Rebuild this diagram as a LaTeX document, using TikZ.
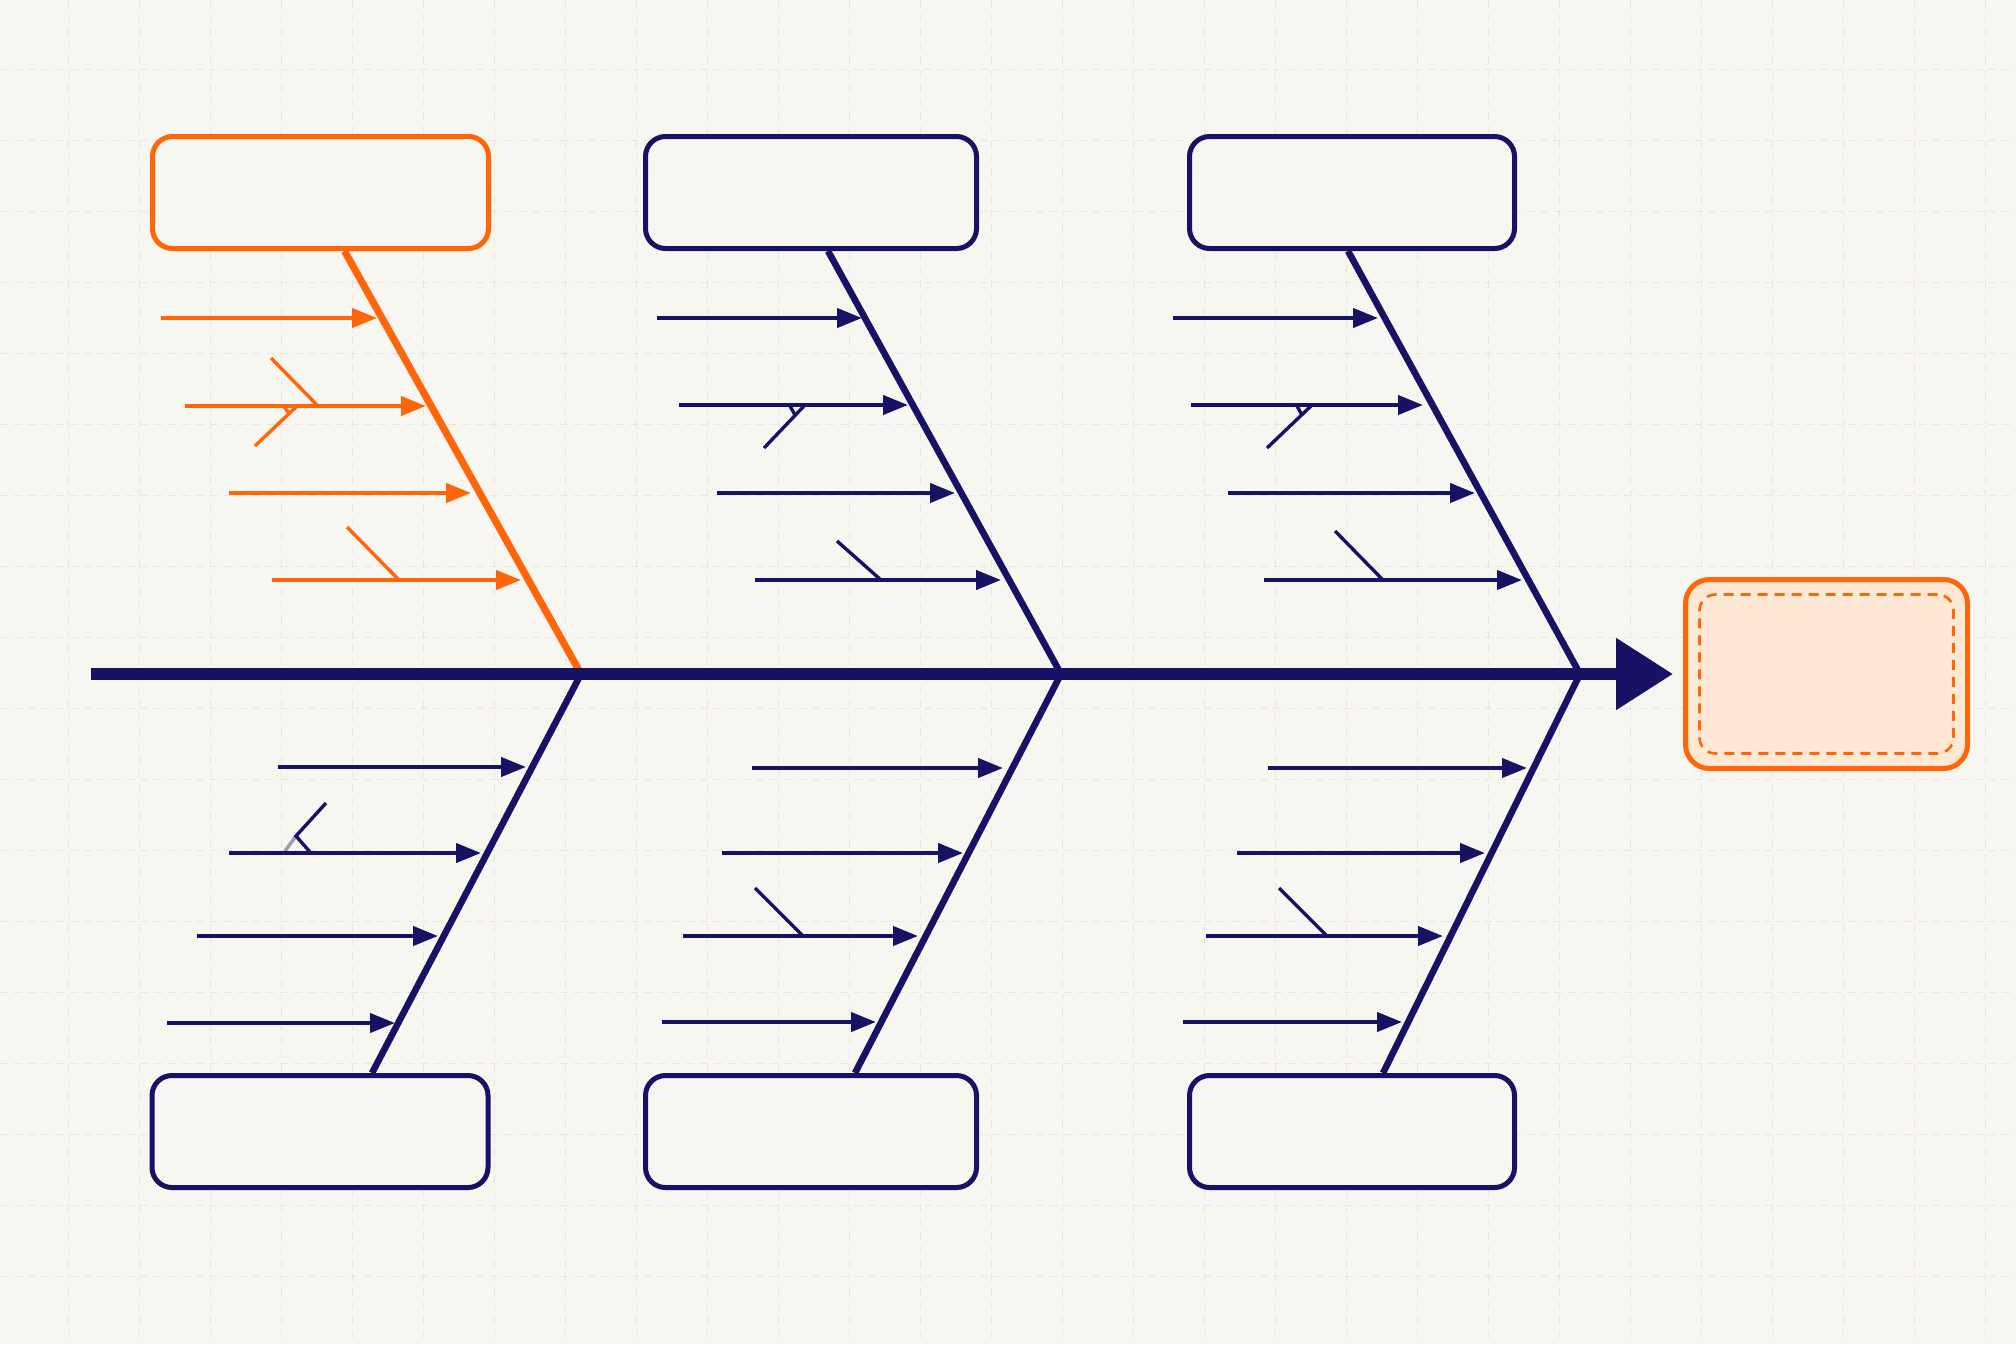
\documentclass[tikz,border=0pt]{standalone}
\usepackage{tikz}
\usetikzlibrary{arrows.meta}
\definecolor{navy}{RGB}{24,18,100}
\definecolor{hot}{RGB}{255,102,10}
\definecolor{paper}{RGB}{248,246,241}
\definecolor{gridgray}{RGB}{233,230,225}
\definecolor{peach}{RGB}{255,233,212}
\tikzstyle{gridline}=[draw=gridgray, line width=0.5pt, dash pattern=on 4pt off 3pt]
\tikzstyle{catbox}=[rectangle, rounded corners=10pt, draw=navy, line width=2.5pt, fill=paper, minimum width=168pt, minimum height=56pt, inner sep=0pt]
\tikzstyle{catboxhot}=[catbox, draw=hot]
\tikzstyle{effbox}=[rectangle, rounded corners=12pt, draw=hot, line width=2.5pt, fill=peach, minimum width=141pt, minimum height=94.5pt, inner sep=0pt]
\tikzstyle{effinner}=[rectangle, rounded corners=8pt, draw=hot, line width=1.3pt, dash pattern=on 5pt off 3.5pt, minimum width=127pt, minimum height=79.5pt, inner sep=0pt]
\tikzstyle{spine}=[draw=navy, line width=6pt, -{Triangle[length=28.5pt,width=34.5pt]}]
\tikzstyle{bone}=[draw=navy, line width=3.3pt]
\tikzstyle{bonehot}=[draw=hot, line width=3.6pt]
\tikzstyle{cause}=[color=navy, line width=2.1pt, -{Triangle[length=12.5pt,width=9.5pt]}]
\tikzstyle{causehot}=[cause, color=hot]
\tikzstyle{twig}=[draw=navy, line width=1.7pt]
\tikzstyle{twighot}=[draw=hot, line width=1.7pt]

\begin{document}
\begin{tikzpicture}[x=0.5pt, y=-0.5pt]
	\fill[paper] (0,0) rectangle (2016,1344);
	\useasboundingbox (0,0) rectangle (2016,1344);
	\foreach \gx in {68,139,...,2016} \draw[gridline] (\gx,0) -- (\gx,1344);
	\foreach \gy in {69,140,...,1344} \draw[gridline] (0,\gy) -- (2016,\gy);
	\begin{scope}
		\node (c1) at (320.5,192.5) [catboxhot] {};
		\node (c2) at (811,192.5) [catbox, minimum width=165.5pt] {};
		\node (c3) at (1352,192.5) [catbox, minimum width=162.5pt] {};
		\node (c4) at (320,1131.5) [catbox] {};
		\node (c5) at (811,1131.5) [catbox, minimum width=165.5pt] {};
		\node (c6) at (1352,1131.5) [catbox, minimum width=162.5pt] {};
		\node (fx) at (1826.5,674) [effbox] {};
		\node (fxin) at (fx.center) [effinner] {};
		\coordinate (tail) at (91,674);
		\coordinate (head) at (1673,674);
		\coordinate (j1) at (581,674);
		\coordinate (j2) at (1061,674);
		\coordinate (j3) at (1580,674);
	\end{scope}
	\begin{scope}
		\path [bonehot] ([xshift=12pt]c1.south) edge (j1);
		\path [bone] ([xshift=8.5pt]c2.south) edge (j2);
		\path [bone] ([xshift=-2pt]c3.south) edge (j3);
		\path [bone] (j1) edge ([xshift=26pt]c4.north);
		\path [bone] (j2) edge ([xshift=22pt]c5.north);
		\path [bone] (j3) edge ([xshift=15.5pt]c6.north);
		\draw [spine] (tail) -- (head);
	\end{scope}
	\begin{scope}
		% top row
		\coordinate (p1a) at (161,318);  \coordinate (q1a) at (377,318);
		\coordinate (p1b) at (185,406);  \coordinate (q1b) at (426,406);
		\coordinate (p1c) at (229,493);  \coordinate (q1c) at (471,493);
		\coordinate (p1d) at (272,580);  \coordinate (q1d) at (521,580);
		\coordinate (p2a) at (657,318);  \coordinate (q2a) at (862,318);
		\coordinate (p2b) at (679,405);  \coordinate (q2b) at (908,405);
		\coordinate (p2c) at (717,493);  \coordinate (q2c) at (955,493);
		\coordinate (p2d) at (755,580);  \coordinate (q2d) at (1001,580);
		\coordinate (p3a) at (1173,318); \coordinate (q3a) at (1378,318);
		\coordinate (p3b) at (1191,405); \coordinate (q3b) at (1423,405);
		\coordinate (p3c) at (1228,493); \coordinate (q3c) at (1475,493);
		\coordinate (p3d) at (1264,580); \coordinate (q3d) at (1522,580);
		% bottom row
		\coordinate (p4a) at (278,767);  \coordinate (q4a) at (526,767);
		\coordinate (p4b) at (229,853);  \coordinate (q4b) at (481,853);
		\coordinate (p4c) at (197,936);  \coordinate (q4c) at (438,936);
		\coordinate (p4d) at (167,1023); \coordinate (q4d) at (395,1023);
		\coordinate (p5a) at (752,768);  \coordinate (q5a) at (1003,768);
		\coordinate (p5b) at (722,853);  \coordinate (q5b) at (963,853);
		\coordinate (p5c) at (683,936);  \coordinate (q5c) at (918,936);
		\coordinate (p5d) at (662,1022); \coordinate (q5d) at (876,1022);
		\coordinate (p6a) at (1268,768); \coordinate (q6a) at (1527,768);
		\coordinate (p6b) at (1237,853); \coordinate (q6b) at (1485,853);
		\coordinate (p6c) at (1206,936); \coordinate (q6c) at (1443,936);
		\coordinate (p6d) at (1183,1022); \coordinate (q6d) at (1402,1022);
		% twigs
		\coordinate (u1) at (271,358);  \coordinate (v1) at (318,406);
		\coordinate (u2) at (255,446);  \coordinate (v2) at (297,406);
		\coordinate (k2) at (284,407);  \coordinate (m2) at (290,414);
		\coordinate (u3) at (347,527);  \coordinate (v3) at (399,580);
		\coordinate (u4) at (764,448);  \coordinate (v4) at (805,405);
		\coordinate (k4) at (790,406);  \coordinate (m4) at (795,415);
		\coordinate (u5) at (837,541);  \coordinate (v5) at (881,580);
		\coordinate (u6) at (1267,448); \coordinate (v6) at (1312,405);
		\coordinate (k6) at (1297,406); \coordinate (m6) at (1302,415);
		\coordinate (u7) at (1335,531); \coordinate (v7) at (1383,580);
		\coordinate (u8) at (326,803);  \coordinate (v8) at (296,836);
		\coordinate (w8) at (310,852);  \coordinate (k8) at (285,851);
		\coordinate (u9) at (755,888);  \coordinate (v9) at (803,936);
		\coordinate (u10) at (1279,888); \coordinate (v10) at (1327,936);
	\end{scope}
	\begin{scope}
		\path [causehot] (p1a) edge (q1a);
		\path [causehot] (p1b) edge (q1b);
		\path [causehot] (p1c) edge (q1c);
		\path [causehot] (p1d) edge (q1d);
		\path [cause] (p2a) edge (q2a);
		\path [cause] (p2b) edge (q2b);
		\path [cause] (p2c) edge (q2c);
		\path [cause] (p2d) edge (q2d);
		\path [cause] (p3a) edge (q3a);
		\path [cause] (p3b) edge (q3b);
		\path [cause] (p3c) edge (q3c);
		\path [cause] (p3d) edge (q3d);
		\path [cause] (p4a) edge (q4a);
		\path [cause] (p4b) edge (q4b);
		\path [cause] (p4c) edge (q4c);
		\path [cause] (p4d) edge (q4d);
		\path [cause] (p5a) edge (q5a);
		\path [cause] (p5b) edge (q5b);
		\path [cause] (p5c) edge (q5c);
		\path [cause] (p5d) edge (q5d);
		\path [cause] (p6a) edge (q6a);
		\path [cause] (p6b) edge (q6b);
		\path [cause] (p6c) edge (q6c);
		\path [cause] (p6d) edge (q6d);
		\path [twighot] (u1) edge (v1);
		\path [twighot] (u2) edge (v2);
		\path [twighot] (k2) edge (m2);
		\path [twighot] (u3) edge (v3);
		\path [twig] (u4) edge (v4);
		\path [twig] (k4) edge (m4);
		\path [twig] (u5) edge (v5);
		\path [twig] (u6) edge (v6);
		\path [twig] (k6) edge (m6);
		\path [twig] (u7) edge (v7);
		\draw [twig] (u8) -- (v8) -- (w8);
		\path [twig, draw opacity=0.4] (v8) edge (k8);
		\path [twig] (u9) edge (v9);
		\path [twig] (u10) edge (v10);
	\end{scope}
\end{tikzpicture}
\end{document}
